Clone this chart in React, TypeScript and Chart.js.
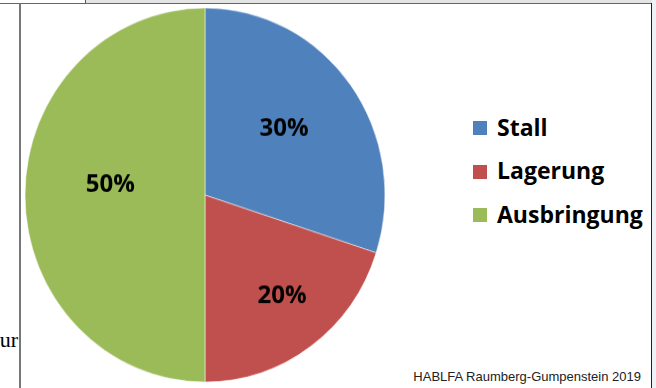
import React, { useEffect, useRef } from "react";
import { Chart, registerables } from "chart.js";

Chart.register(...registerables);

// ---- data ----
const categories = ["Stall", "Lagerung", "Ausbringung"];
const shares = [30, 20, 50];
const percentLabels = shares.map((v) => `${v}%`);
const sliceColors = ["#4F81BD", "#C0504D", "#9BBB59"];
const footerText = "HABLFA Raumberg-Gumpenstein 2019";
const clippedText = "ur";

// ---- label placement style (fraction of radius, angle shift in degrees) ----
const labelRadius = [0.57, 0.68, 0.53];
const labelAngleShift = [-3.6, -3, 7];

export default function App() {
  const ref = useRef<HTMLCanvasElement>(null);

  useEffect(() => {
    document.body.style.margin = "0";
    const labelPlugin = {
      id: "pctLabels",
      afterDatasetsDraw(chart: any) {
        const ctx = chart.ctx;
        const meta = chart.getDatasetMeta(0);
        ctx.save();
        ctx.font = "bold 24px 'Open Sans'";
        ctx.fillStyle = "#000";
        ctx.textAlign = "center";
        ctx.textBaseline = "alphabetic";
        meta.data.forEach((arc: any, i: number) => {
          const p = arc.getProps(["x", "y", "startAngle", "endAngle", "outerRadius"], true);
          const mid = (p.startAngle + p.endAngle) / 2 + (labelAngleShift[i] * Math.PI) / 180;
          const r = p.outerRadius * labelRadius[i];
          const x = p.x + Math.cos(mid) * r;
          const y = p.y + Math.sin(mid) * r;
          ctx.fillText(percentLabels[i], x, y + 8.5);
        });
        ctx.restore();
      },
    };
    const chart = new Chart(ref.current as HTMLCanvasElement, {
      type: "pie",
      data: {
        labels: categories,
        datasets: [
          {
            data: shares,
            backgroundColor: sliceColors,
            borderColor: "rgba(255,255,255,0.5)",
            borderWidth: 1,
            hoverOffset: 0,
          },
        ],
      },
      options: {
        animation: false,
        responsive: false,
        radius: 180,
        layout: { padding: 0 },
        events: [],
        plugins: { legend: { display: false }, tooltip: { enabled: false } },
      } as any,
      plugins: [labelPlugin],
    });
    return () => chart.destroy();
  }, []);

  return (
    <div
      style={{
        position: "fixed",
        left: 0,
        top: 0,
        width: 656,
        height: 388,
        background: "#fff",
        overflow: "hidden",
      }}
    >
      <div style={{ position: "absolute", left: 86, top: 0, width: 570, height: 3, background: "#e4e4e4" }} />
      <div style={{ position: "absolute", left: 85, top: 0, width: 1, height: 3, background: "#555" }} />
      <div style={{ position: "absolute", left: 0, top: 3, width: 652, height: 1, background: "#666" }} />
      <div style={{ position: "absolute", left: 19, top: 3, width: 2, height: 385, background: "#777" }} />
      <div style={{ position: "absolute", left: 651, top: 3, width: 1, height: 385, background: "#222" }} />
      <div style={{ position: "absolute", left: 652, top: 0, width: 4, height: 388, background: "#eef2f6" }} />

      <div
        style={{
          position: "absolute",
          right: 638,
          top: 328.6,
          lineHeight: "22px",
          fontSize: 22,
          fontFamily: "'Liberation Serif', serif",
          color: "#000",
          whiteSpace: "nowrap",
        }}
      >
        {clippedText}
      </div>

      <div
        style={{
          position: "absolute",
          left: 15,
          top: 5,
          width: 380,
          height: 380,
          transform: "scaleY(1.039)",
          transformOrigin: "50% 50%",
        }}
      >
        <canvas ref={ref} width={380} height={380} style={{ display: "block" }} />
      </div>

      {categories.map((c, i) => (
        <React.Fragment key={c}>
          <div
            style={{
              position: "absolute",
              left: 473,
              top: 121 + i * 43.5,
              width: 14,
              height: 14,
              background: sliceColors[i],
            }}
          />
          <div
            style={{
              position: "absolute",
              left: 497,
              top: 115.6 + i * 43.5,
              fontFamily: "'Open Sans', sans-serif",
              fontWeight: 700,
              fontSize: 23,
              lineHeight: "23px",
              color: "#000",
              whiteSpace: "nowrap",
            }}
          >
            {c}
          </div>
        </React.Fragment>
      ))}

      <div
        style={{
          position: "absolute",
          right: 15,
          top: 370,
          fontFamily: "'Liberation Sans', Arial, sans-serif",
          fontSize: 13,
          lineHeight: "13px",
          color: "#222",
          whiteSpace: "nowrap",
        }}
      >
        {footerText}
      </div>
    </div>
  );
}
